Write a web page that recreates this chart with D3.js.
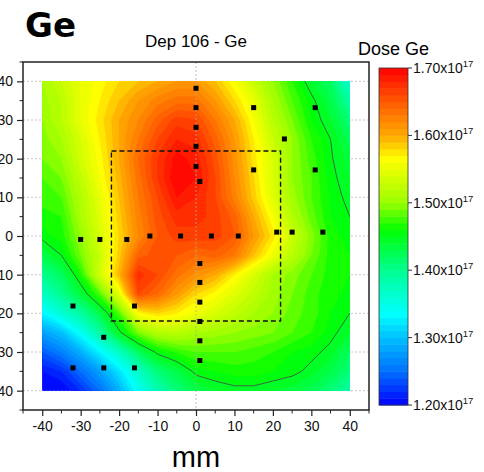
<!DOCTYPE html>
<html>
<head>
<meta charset="utf-8">
<script src="https://cdn.jsdelivr.net/npm/d3@7"></script>
<style>
  body { margin: 0; background: #fff; }
  svg { font-family: "Liberation Sans", Arial, sans-serif; }
</style>
</head>
<body>
<svg id="chart" width="484" height="472"></svg>
<script>
// grid of dose values (x10^17), 5 mm spacing, rows from y=40 down to y=-40, columns x=-40..40
const gridX = d3.range(-40, 41, 5);
const gridY = d3.range(40, -41, -5);
const dose = [
  [1.51, 1.53, 1.55, 1.565, 1.58, 1.59, 1.60, 1.61, 1.61, 1.59, 1.56, 1.53, 1.50, 1.47, 1.44, 1.42, 1.36],
  [1.505, 1.52, 1.55, 1.57, 1.59, 1.61, 1.625, 1.635, 1.635, 1.61, 1.58, 1.55, 1.51, 1.48, 1.455, 1.43, 1.39],
  [1.50, 1.52, 1.55, 1.575, 1.60, 1.62, 1.645, 1.665, 1.66, 1.63, 1.60, 1.56, 1.52, 1.49, 1.46, 1.44, 1.41],
  [1.495, 1.51, 1.54, 1.57, 1.60, 1.63, 1.66, 1.68, 1.675, 1.645, 1.61, 1.57, 1.53, 1.50, 1.47, 1.45, 1.425],
  [1.49, 1.50, 1.535, 1.565, 1.60, 1.64, 1.67, 1.695, 1.685, 1.655, 1.615, 1.575, 1.54, 1.50, 1.475, 1.452, 1.435],
  [1.48, 1.49, 1.525, 1.56, 1.595, 1.635, 1.67, 1.70, 1.69, 1.66, 1.62, 1.58, 1.54, 1.50, 1.48, 1.455, 1.44],
  [1.475, 1.48, 1.515, 1.55, 1.59, 1.63, 1.66, 1.69, 1.68, 1.66, 1.625, 1.585, 1.545, 1.505, 1.48, 1.458, 1.445],
  [1.465, 1.47, 1.51, 1.545, 1.585, 1.625, 1.655, 1.675, 1.675, 1.665, 1.645, 1.60, 1.56, 1.515, 1.485, 1.46, 1.45],
  [1.455, 1.465, 1.50, 1.54, 1.58, 1.62, 1.65, 1.665, 1.665, 1.665, 1.65, 1.61, 1.575, 1.53, 1.495, 1.465, 1.455],
  [1.43, 1.45, 1.49, 1.53, 1.585, 1.645, 1.655, 1.65, 1.64, 1.645, 1.63, 1.59, 1.555, 1.52, 1.49, 1.465, 1.46],
  [1.40, 1.42, 1.465, 1.535, 1.595, 1.675, 1.66, 1.635, 1.615, 1.60, 1.57, 1.54, 1.51, 1.495, 1.48, 1.465, 1.46],
  [1.37, 1.40, 1.435, 1.48, 1.55, 1.66, 1.64, 1.61, 1.58, 1.565, 1.545, 1.525, 1.505, 1.49, 1.475, 1.462, 1.458],
  [1.33, 1.36, 1.39, 1.43, 1.48, 1.565, 1.58, 1.57, 1.555, 1.54, 1.525, 1.51, 1.50, 1.485, 1.475, 1.46, 1.45],
  [1.28, 1.30, 1.34, 1.39, 1.445, 1.49, 1.515, 1.52, 1.51, 1.505, 1.50, 1.495, 1.49, 1.48, 1.47, 1.455, 1.44],
  [1.24, 1.26, 1.29, 1.33, 1.37, 1.42, 1.455, 1.47, 1.48, 1.48, 1.48, 1.475, 1.47, 1.46, 1.455, 1.445, 1.42],
  [1.21, 1.22, 1.25, 1.28, 1.32, 1.37, 1.41, 1.43, 1.455, 1.46, 1.465, 1.465, 1.46, 1.455, 1.445, 1.43, 1.41],
  [1.20, 1.20, 1.22, 1.25, 1.29, 1.34, 1.38, 1.41, 1.43, 1.44, 1.445, 1.445, 1.44, 1.435, 1.425, 1.41, 1.39]
];

// measurement positions (mm)
const ptX = [0, 0, 0, 0, 0, 1, -30, -25, -18, -12, -4, 4, 11, 15, 31, 23, 15, 31, 21, 25, 33,
             -32, -16, -24, -32, -24, -16, 1, 1, 1, 1, 1, 1];
const ptY = [38.2, 33.2, 28.1, 23.2, 18, 14.1, -0.9, -0.9, -0.9, 0, 0, 0, 0, 33.2, 33.2, 25.1, 17.1, 17.1, 1, 1, 1,
             -18.1, -18.1, -26.2, -34.1, -34.1, -34.1, -7.1, -12, -17.1, -22.1, -27.1, -32.2];

const boxX = [-22, 22];
const boxY = [-22, 22];
const lineLevel = 1.45;

const axisTicks = d3.range(-40, 41, 10);
const cbTicks = [1.2, 1.3, 1.4, 1.5, 1.6, 1.7];
const colorStops = [1.20, 1.25, 1.30, 1.335, 1.40, 1.46, 1.50, 1.565, 1.60, 1.65, 1.70];
const colorList = ['#0000ff', '#0070ff', '#00c0ff', '#00ffff', '#00ff90', '#00ff00', '#99ff00', '#ffff00', '#ffaa00', '#ff5a00', '#ff0000'];

const svg = d3.select('#chart');

let x = d3.scaleLinear().domain([-45, 45]).range([23, 369]);
let y = d3.scaleLinear().domain([-45, 45]).range([410, 62]);
let color = d3.scaleLinear().domain(colorStops).range(colorList);

// horizontal grid under the map
svg.append('g').selectAll('line').data(axisTicks).join('line')
  .attr('x1', x(-45)).attr('x2', x(45))
  .attr('y1', d => y(d)).attr('y2', d => y(d))
  .attr('stroke', '#bbb').attr('stroke-width', 0.8).attr('stroke-dasharray', '2,2');

// contour map
const nx = gridX.length, ny = gridY.length;
const values = dose.flat();
const levels = d3.range(0, 50).map(i => +(1.20 + i * 0.01).toFixed(2));

const proj = d3.geoTransform({
  point: function(px, py) {
    this.stream.point(x(gridX[0] + (px - 0.5) * 5), y(gridY[0] - (py - 0.5) * 5));
  }
});
const path = d3.geoPath(proj);

svg.append('clipPath').attr('id', 'mapclip').append('rect')
  .attr('x', x(-40)).attr('y', y(40))
  .attr('width', x(40) - x(-40)).attr('height', y(-40) - y(40));

const map = svg.append('g').attr('clip-path', 'url(#mapclip)');
map.append('rect')
  .attr('x', x(-40)).attr('y', y(40))
  .attr('width', x(40) - x(-40)).attr('height', y(-40) - y(40))
  .attr('fill', color(1.205));

const contours = d3.contours().size([nx, ny]).thresholds(levels)(values);
map.selectAll('path.band').data(contours).join('path')
  .attr('class', 'band')
  .attr('d', path)
  .attr('fill', d => color(Math.min(d.value + 0.005, 1.7)))
  .attr('stroke', d => color(Math.min(d.value + 0.005, 1.7)))
  .attr('stroke-width', 0.5);

const iso = d3.contours().size([nx, ny]).thresholds([lineLevel])(values);
map.selectAll('path.iso').data(iso).join('path')
  .attr('class', 'iso')
  .attr('d', path)
  .attr('fill', 'none')
  .attr('stroke', '#3c5a4a')
  .attr('stroke-width', 0.9);

// vertical zero line over the map
svg.append('line')
  .attr('x1', x(0)).attr('x2', x(0))
  .attr('y1', y(45)).attr('y2', y(-45))
  .attr('stroke', '#aaa').attr('stroke-width', 0.8).attr('stroke-dasharray', '2,2');

// dashed box
svg.append('rect')
  .attr('x', x(boxX[0])).attr('y', y(boxY[1]))
  .attr('width', x(boxX[1]) - x(boxX[0])).attr('height', y(boxY[0]) - y(boxY[1]))
  .attr('fill', 'none').attr('stroke', '#111').attr('stroke-width', 1.4)
  .attr('stroke-dasharray', '5,3');

// points
svg.append('g').selectAll('rect').data(ptX).join('rect')
  .attr('x', (d, i) => x(d) - 2.5).attr('y', (d, i) => y(ptY[i]) - 2.5)
  .attr('width', 5).attr('height', 5).attr('fill', '#000');

// frame
svg.append('rect')
  .attr('x', x(-45)).attr('y', y(45))
  .attr('width', x(45) - x(-45)).attr('height', y(-45) - y(45))
  .attr('fill', 'none').attr('stroke', '#222').attr('stroke-width', 1.5);

// axes
const minor = d3.range(-45, 46, 5).filter(d => d % 10 !== 0);
let xAxis = svg.append('g').attr('transform', `translate(0,${y(-45)})`)
  .call(d3.axisBottom(x).tickValues(axisTicks).tickFormat(d => String(d)).tickSize(6).tickPadding(5));
xAxis.append('g').selectAll('line').data(minor).join('line')
  .attr('x1', d => x(d)).attr('x2', d => x(d)).attr('y1', 0).attr('y2', 3.5)
  .attr('stroke', '#222');
let yAxis = svg.append('g').attr('transform', `translate(${x(-45)},0)`)
  .call(d3.axisLeft(y).tickValues(axisTicks).tickFormat(d => String(d)).tickSize(6).tickPadding(4));
yAxis.append('g').selectAll('line').data(minor).join('line')
  .attr('y1', d => y(d)).attr('y2', d => y(d)).attr('x1', 0).attr('x2', -3.5)
  .attr('stroke', '#222');
[xAxis, yAxis].forEach(a => {
  a.select('.domain').remove();
  a.selectAll('.tick line').attr('stroke', '#222').attr('stroke-width', 1.2);
  a.selectAll('.tick text').attr('font-size', 14).attr('fill', '#111')
    .attr('font-family', '"Liberation Sans", Arial, sans-serif');
});

// titles
svg.append('text').attr('x', 25).attr('y', 37)
  .attr('font-family', '"DejaVu Sans", sans-serif').attr('font-weight', 'bold')
  .attr('font-size', 34).text('Ge');
svg.append('text').attr('x', x(0)).attr('y', 47).attr('text-anchor', 'middle')
  .attr('font-size', 17).text('Dep 106 - Ge');
svg.append('text').attr('x', x(0)).attr('y', 467).attr('text-anchor', 'middle')
  .attr('font-size', 29).text('mm');

// colour bar
let cb = d3.scaleLinear().domain([1.2, 1.7]).range([405, 68]);
const cbX = 379, cbW = 29;
svg.append('g').selectAll('rect').data(levels).join('rect')
  .attr('x', cbX).attr('width', cbW)
  .attr('y', d => cb(d + 0.01)).attr('height', d => cb(d) - cb(d + 0.01) + 0.5)
  .attr('fill', d => color(d + 0.005));
svg.append('rect').attr('x', cbX).attr('y', cb(1.7)).attr('width', cbW)
  .attr('height', cb(1.2) - cb(1.7)).attr('fill', 'none')
  .attr('stroke', '#333').attr('stroke-width', 0.8);
const cbT = svg.append('g').selectAll('g').data(cbTicks).join('g')
  .attr('transform', d => `translate(${cbX + cbW},${cb(d)})`);
cbT.append('line').attr('x1', 0).attr('x2', 4).attr('stroke', '#333');
const lab = cbT.append('text').attr('x', 5).attr('dy', '0.35em').attr('font-size', 14).attr('fill', '#111');
lab.append('tspan').text(d => d.toFixed(2) + 'x10');
lab.append('tspan').attr('font-size', 9.5).attr('dy', -6).text('17');
svg.append('text').attr('x', 358).attr('y', 55).attr('font-size', 18).text('Dose Ge');
</script>
</body>
</html>
